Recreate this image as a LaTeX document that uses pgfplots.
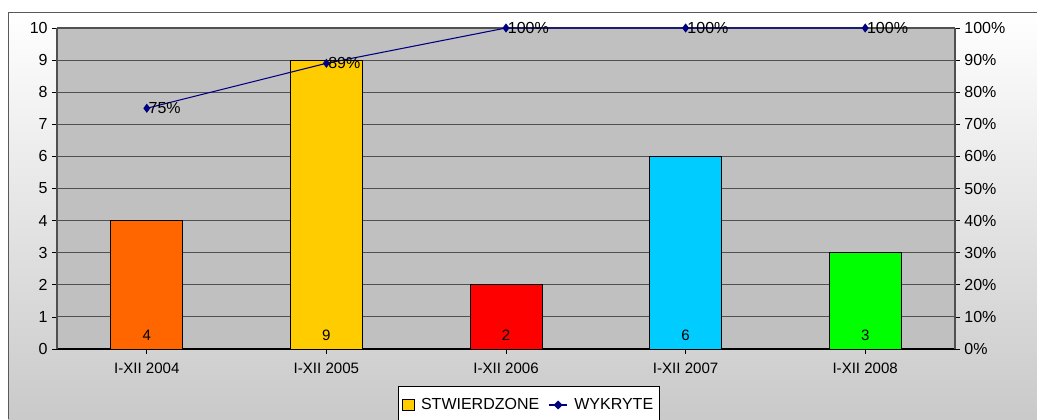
\documentclass[border=0pt]{standalone}
\usepackage{pgfplots}
\pgfplotsset{compat=1.18}
\usepackage{fontspec}
\setmainfont{Liberation Sans}
\definecolor{barorange}{HTML}{FF6600}
\definecolor{baryellow}{HTML}{FFCC00}
\definecolor{barred}{HTML}{FF0000}
\definecolor{barcyan}{HTML}{00CCFF}
\definecolor{bargreen}{HTML}{00FF00}
\definecolor{navyline}{HTML}{000080}
\definecolor{plotbg}{HTML}{C0C0C0}
\definecolor{gridc}{HTML}{505050}
\begin{document}
\begin{tikzpicture}[x=1pt,y=1pt]
\useasboundingbox (0,0) rectangle (777.75,314.25);
\shade[top color=white, bottom color=black!21] (6,0) rectangle (777.75,305.25);
\draw[black!65, line width=0.75pt] (6,0) -- (6,305.25) -- (777.75,305.25);
\pgfplotsset{
  common/.style={
    at={(42.75pt,52.5pt)}, anchor=south west,
    scale only axis, width=673.5pt, height=240.75pt,
    xmin=-0.5, xmax=4.5,
    tick align=outside, major tick length=3.5pt,
    tick style={black, line width=0.6pt},
    yticklabel style={font=\fontsize{12}{14}\selectfont},
    xticklabel style={font=\fontsize{11.3}{13}\selectfont, yshift=-3.5pt},
    /pgf/number format/assume math mode=true,
  }
}
\begin{axis}[common,
  ymin=0, ymax=10, ytick={0,1,...,10},
  xtick={0,1,2,3,4},
  xticklabels={I-XII 2004,I-XII 2005,I-XII 2006,I-XII 2007,I-XII 2008},
  axis x line*=bottom, axis y line*=left,
  x axis line style={black, line width=0.8pt, -},
  y axis line style={gridc, line width=0.8pt, -},
  axis background/.style={fill=plotbg},
  ymajorgrids, major grid style={gridc, line width=0.8pt},
  minor tick num=0,
]
\addplot[ybar, bar width=0.4, bar shift=0pt, fill=barorange, draw=black, line width=0.6pt] coordinates {(0,4)};
\addplot[ybar, bar width=0.4, bar shift=0pt, fill=baryellow, draw=black, line width=0.6pt] coordinates {(1,9)};
\addplot[ybar, bar width=0.4, bar shift=0pt, fill=barred, draw=black, line width=0.6pt] coordinates {(2,2)};
\addplot[ybar, bar width=0.4, bar shift=0pt, fill=barcyan, draw=black, line width=0.6pt] coordinates {(3,6)};
\addplot[ybar, bar width=0.4, bar shift=0pt, fill=bargreen, draw=black, line width=0.6pt] coordinates {(4,3)};
\foreach \i/\v in {0/4,1/9,2/2,3/6,4/3}{
  \edef\temp{\noexpand\node[anchor=base, yshift=6.75pt, font=\noexpand\fontsize{11.3}{13}\noexpand\selectfont] at (axis cs:\i,0) {\v};}
  \temp
}
\end{axis}
\begin{axis}[common,
  ymin=0, ymax=100, ytick={0,10,...,100},
  yticklabel={\pgfmathprintnumber{\tick}\%},
  axis x line=none, axis y line*=right,
  y axis line style={gridc, line width=0.8pt, -},
  clip=false,
  legend columns=2,
  legend style={at={(0.5256,-0.1153)}, anchor=north, draw=black, fill=white,
    line width=0.6pt,
    font=\fontsize{12}{14}\selectfont, inner ysep=7pt, inner xsep=3pt,
    /tikz/every odd column/.append style={column sep=3pt},
    /tikz/every even column/.append style={column sep=5pt}},
  legend cell align=left,
]
\addlegendimage{legend image code/.code={\draw[fill=baryellow, draw=black, line width=0.6pt] (0pt,-4.3pt) rectangle (8.6pt,4.3pt);}}
\addlegendentry{STWIERDZONE}
\addplot[navyline, line width=0.8pt, mark=diamond*, mark size=2.8pt,
  mark options={fill=navyline, draw=navyline},
  nodes near coords, point meta=explicit symbolic,
  every node near coord/.append style={anchor=west, inner sep=1pt, black, font=\fontsize{12}{14}\selectfont},
  legend image code/.code={\draw[navyline, line width=0.8pt] (0pt,0pt) -- (13.5pt,0pt);
    \fill[navyline] (6.75pt,0pt) +(-2.8pt,0) -- +(0,2.8pt) -- +(2.8pt,0) -- +(0,-2.8pt) -- cycle;}]
  coordinates {(0,75)[75\%] (1,89)[89\%] (2,100)[100\%] (3,100)[100\%] (4,100)[100\%]};
\addlegendentry{WYKRYTE}
\end{axis}
\end{tikzpicture}
\end{document}
